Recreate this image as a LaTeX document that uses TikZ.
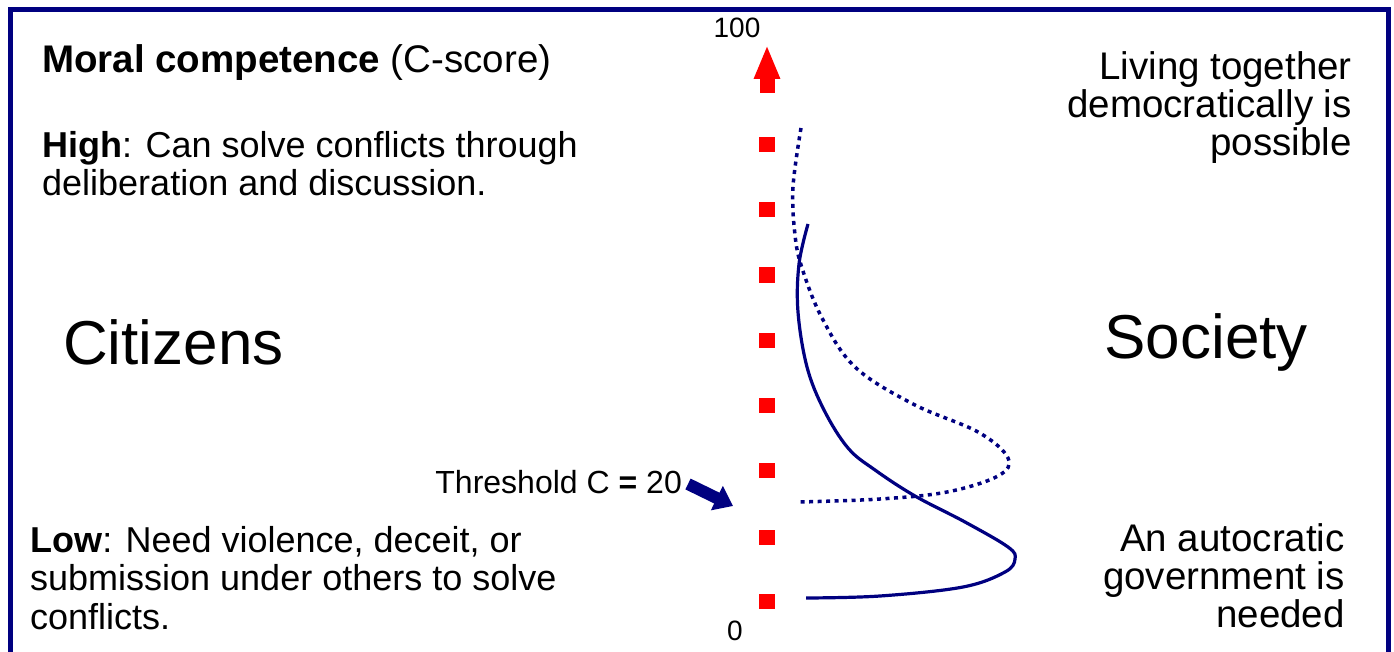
\documentclass[tikz,border=0pt]{standalone}
\usepackage{fontspec}
\setmainfont{Liberation Sans}
\usetikzlibrary{arrows.meta}
\definecolor{FrameNavy}{HTML}{000080}
\definecolor{AxisRed}{HTML}{FF0000}

\begin{document}
\begin{tikzpicture}[x=1pt,y=-1pt,
  txt/.style={inner sep=0pt,font=\fontsize{36}{38.5}\selectfont},
  rtxt/.style={inner sep=0pt,font=\fontsize{38.5}{38}\selectfont},
  big/.style={inner sep=0pt,font=\fontsize{62}{66}\selectfont}]
  \useasboundingbox (0,0) rectangle (1394,652);
  % frame
  \draw[FrameNavy,line width=5pt] (10,670) -- (10,10) -- (1388,10) -- (1388,670);
  % axis
  \foreach \y in {145,210,275,340,405,470,537,601}
    \fill[AxisRed] (759,\y-7.5) rectangle (775,\y+7.5);
  \coordinate (axbase) at (767,93);
  \coordinate (axtop) at (767,45);
  \draw[AxisRed,line width=15pt,-{Triangle[width=24pt,length=34pt]}] (axbase) -- (axtop);
  \node[inner sep=0pt,anchor=base,font=\fontsize{28}{30}\selectfont] (top) at (737,38) {100};
  \node[inner sep=0pt,anchor=base,font=\fontsize{28}{30}\selectfont] (bot) at (735,640) {0};
  % curves
  \draw[FrameNavy,line width=3.5pt,dash pattern=on 4pt off 4.5pt] plot[smooth,tension=0.6] coordinates
    {(801,128) (793,187) (795,235) (802,268) (822,318) (855,367) (913,404) (978,432) (1008,458) (998,476) (947,492) (880,499) (800,502)};
  \draw[FrameNavy,line width=3.2pt] plot[smooth,tension=0.6] coordinates
    {(808,224) (799,264) (798,312) (807,367) (824,410) (848,448) (875,470) (915,496) (965,522) (1008,547) (1015,559) (1005,572) (963,587) (880,596) (806,598)};
  % left texts
  \node[inner sep=0pt,anchor=base west,font=\fontsize{38.5}{40}\selectfont] (moral) at (42,73)
    {\textbf{Moral competence} (C-score)};
  \node[txt,anchor=base west,align=left] (high) at (42,196)
    {\textbf{High}: Can solve conflicts through\\deliberation and discussion.};
  \node[big,anchor=base west] (citizens) at (63,364) {Citizens};
  \node[inner sep=0pt,anchor=base east,font=\fontsize{32}{34}\selectfont] (thr) at (682,493)
    {Threshold C \textbf{=} 20};
  \coordinate (thrtip) at (733,506);
  \draw[FrameNavy,line width=12pt,-{Triangle[width=26pt,length=18pt]}] (688,484) -- (thrtip);
  \node[txt,anchor=base west,align=left] (low) at (30,629)
    {\textbf{Low}: Need violence, deceit, or\\submission under others to solve\\conflicts.};
  % right texts
  \node[rtxt,anchor=base east,align=right] (demo) at (1352,156)
    {Living together\\democratically is\\possible};
  \node[big,anchor=base east] (society) at (1308,358) {Society};
  \node[rtxt,anchor=base east,align=right] (auto) at (1345,627)
    {An autocratic\\government is\\needed};
\end{tikzpicture}
\end{document}
